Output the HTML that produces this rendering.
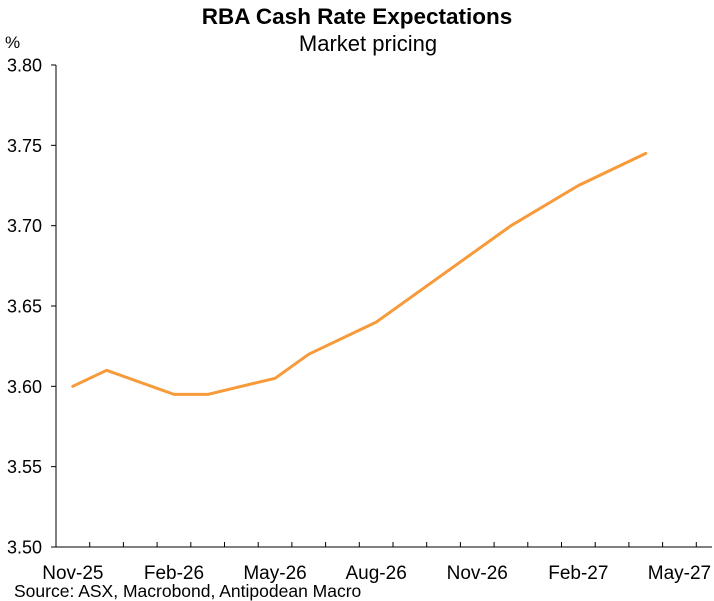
<!DOCTYPE html>
<html><head><meta charset="utf-8"><style>
body{margin:0;background:#fff;}
svg{display:block;font-family:"Liberation Sans",Arial,sans-serif;}
</style></head><body>
<svg id="chart" width="714" height="601">
<text x="357" y="24" text-anchor="middle" font-size="22.5" font-weight="bold" fill="#000">RBA Cash Rate Expectations</text>
<text x="368" y="51" text-anchor="middle" font-size="22" fill="#000">Market pricing</text>
<text x="5" y="48" font-size="17" fill="#000">%</text>
<text x="14" y="597" font-size="17.5" fill="#000">Source: ASX, Macrobond, Antipodean Macro</text>
<g id="axes"></g>
<g id="series"></g>
</svg>
<script>
const yTicks=[3.50,3.55,3.60,3.65,3.70,3.75,3.80];
const xLabels=["Nov-25","Feb-26","May-26","Aug-26","Nov-26","Feb-27","May-27"];
const xLabelMonths=[0,3,6,9,12,15,18];
const monthIdx=[0,1,3,4,6,7,9,13,15,17];
const rates=[3.600,3.610,3.595,3.595,3.605,3.620,3.640,3.700,3.725,3.745];

const NS="http://www.w3.org/2000/svg";
const X0=56,MW=33.7,Y0=547,Y1=65,YMIN=3.5,YMAX=3.8;
const xs=m=>X0+MW*(m+0.5);
const ys=v=>Y0-(v-YMIN)/(YMAX-YMIN)*(Y0-Y1);
function mk(t,a,p){const e=document.createElementNS(NS,t);for(const k in a)e.setAttribute(k,a[k]);p.appendChild(e);return e;}
const ax=document.getElementById('axes');
let e=mk('line',{x1:X0,y1:Y1,x2:X0,y2:Y0,stroke:'#000','stroke-width':1},ax);


e=mk('line',{x1:X0,y1:Y0,x2:712,y2:Y0,stroke:'#000','stroke-width':1},ax);


yTicks.forEach(v=>{
  const y=ys(v);
  const t=mk('line',{x1:X0-5,y1:y,x2:X0,y2:y,stroke:'#000'},ax);
  
  
  const l=mk('text',{x:42,y:y+6.5,'text-anchor':'end','font-size':18,fill:'#000'},ax);
  l.textContent=v.toFixed(2);
  
  
});
for(let k=1;k<=19;k++){
  const x=X0+MW*k;
  const t=mk('line',{x1:x,y1:Y0,x2:x,y2:Y0-5,stroke:'#000'},ax);
  
  
}
xLabels.forEach((s,i)=>{
  const l=mk('text',{x:xs(xLabelMonths[i]),y:579,'text-anchor':'middle','font-size':19,fill:'#000'},ax);
  l.textContent=s;
  
  
});
const pts=monthIdx.map((m,i)=>xs(m).toFixed(1)+','+ys(rates[i]).toFixed(1)).join(' ');
const pl=mk('polyline',{points:pts,fill:'none',stroke:'#f79a3a','stroke-width':3,'stroke-linejoin':'round','stroke-linecap':'round'},document.getElementById('series'));


</script>
</body></html>
